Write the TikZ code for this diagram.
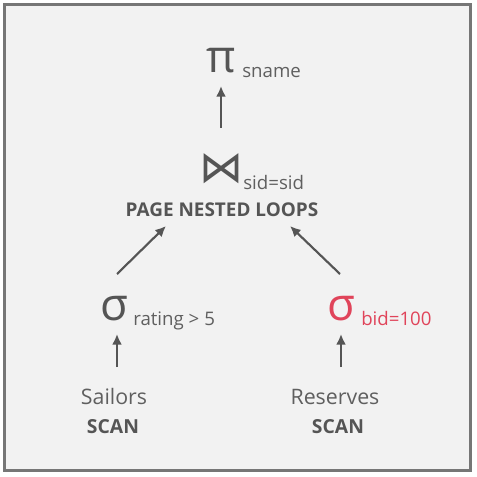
\documentclass[tikz,border=0pt]{standalone}
\usepackage{fontspec}
\setmainfont{Open Sans}
\newfontfamily\symfont{DejaVu Sans}
\usetikzlibrary{arrows.meta}
\definecolor{ink}{HTML}{555555}
\definecolor{subink}{HTML}{5F5F5F}
\definecolor{hot}{HTML}{E0445A}
\definecolor{frame}{HTML}{767676}
\definecolor{paper}{HTML}{F2F2F2}
\tikzset{
  opsym/.style={inner sep=0pt, anchor=base, text=ink, font=\fontsize{34}{36}\selectfont},
  subtxt/.style={inner sep=0pt, anchor=base west, text=subink, font=\fontsize{14}{16}\selectfont},
  algo/.style={inner sep=0pt, anchor=base, text=ink, font=\fontsize{14.2}{16}\selectfont\bfseries},
  rel/.style={inner sep=0pt, anchor=base, text=subink, font=\fontsize{16}{18}\selectfont},
  scan/.style={inner sep=0pt, anchor=base, text=ink, font=\fontsize{14.5}{17}\selectfont\bfseries},
  flow/.style={draw=ink, line width=1.6pt, -{Latex[length=8pt,width=7.5pt]}}
}
\begin{document}
\begin{tikzpicture}[x=0.75pt, y=-0.75pt]
\useasboundingbox (0,0) rectangle (477,477);
% frame
\draw[frame, fill=paper, line width=2.2pt] (4.5,4.5) rectangle (470.5,470.5);

% projection
\node[opsym] (proj) at (221,73) {π};
\node[subtxt] (projsub) at (242,78) {sname};

% join
\node[opsym, font=\symfont\fontsize{33}{36}\selectfont] (join) at (221,182) {⋈};
\node[subtxt] (joinsub) at (243,190) {sid=sid};
\node[algo] (joinalgo) at (222,216) {PAGE NESTED LOOPS};

% selections
\node[opsym] (selL) at (114,320) {σ};
\node[subtxt] (selLsub) at (133,325) {rating > 5};
\node[opsym, text=hot] (selR) at (341,320) {σ};
\node[subtxt, text=hot] (selRsub) at (361,325) {bid=100};

% base relations
\node[rel] (sailors) at (114,404) {Sailors};
\node[scan] (scanL) at (113,433) {SCAN};
\node[rel] (reserves) at (335,404) {Reserves};
\node[scan] (scanR) at (338,433) {SCAN};

% arrow end points
\coordinate (p1) at (117,367); \coordinate (p2) at (117,334);
\coordinate (q1) at (341,367); \coordinate (q2) at (341,334);
\coordinate (l1) at (117,274); \coordinate (l2) at (166,226);
\coordinate (r1) at (340,274); \coordinate (r2) at (290,226);
\coordinate (t1) at (221,128); \coordinate (t2) at (221,86);

\draw[flow] (p1) -- (p2);
\draw[flow] (q1) -- (q2);
\draw[flow] (l1) -- (l2);
\draw[flow] (r1) -- (r2);
\draw[flow] (t1) -- (t2);
\end{tikzpicture}
\end{document}
